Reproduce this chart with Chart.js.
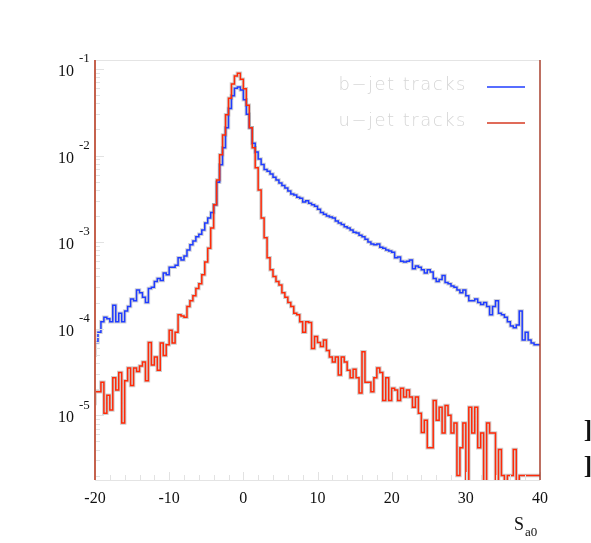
<!DOCTYPE html>
<html>
<head>
<meta charset="utf-8">
<script src="https://cdn.jsdelivr.net/npm/chart.js@4.4.1/dist/chart.umd.min.js"></script>
<style>
  html, body { margin: 0; padding: 0; background: #fff; }
  #plot { display: block; }
</style>
</head>
<body>
<canvas id="plot" width="591" height="543"></canvas>
<script>
// histogram binning (x axis: S_a0)
const binLow = -20;
const binWidth = 0.4;

const xTicks = [-20, -10, 0, 10, 20, 30, 40];
const yTicks = [1e-1, 1e-2, 1e-3, 1e-4, 1e-5];
const yTickExp = ['-1', '-2', '-3', '-4', '-5'];
const seriesNames = ['b\u2212jet tracks', 'u\u2212jet tracks'];

// b-jet tracks, one value per bin
const bJet = [
  4.7e-5, 6.9e-5, 9.1e-5, 1.2e-4, 1.35e-4, 1.3e-4, 1.2e-4, 1.86e-4, 1.2e-4, 1.5e-4,
  1.2e-4, 1.6e-4, 1.8e-4, 2.2e-4, 2.1e-4, 2.8e-4, 2.6e-4, 2.3e-4, 2.0e-4, 2.9e-4,
  3.0e-4, 3.5e-4, 3.8e-4, 3.6e-4, 4.4e-4, 4.2e-4, 5.1e-4, 5.1e-4, 5.4e-4, 6.6e-4,
  6.2e-4, 6.9e-4, 8.1e-4, 9.3e-4, 1.03e-3, 1.15e-3, 1.23e-3, 1.38e-3, 1.66e-3, 1.9e-3,
  2.2e-3, 2.7e-3, 4.9e-3, 7.8e-3, 0.0123, 0.021, 0.035, 0.049, 0.060, 0.062,
  0.057, 0.044, 0.030, 0.021, 0.0139, 0.011, 0.0091, 0.0079, 0.0069, 0.0066,
  0.0061, 0.0056, 0.0052, 0.0048, 0.0045, 0.0042, 0.0039, 0.0036, 0.0035, 0.0033,
  0.0032, 0.0029, 0.0030, 0.0028, 0.0027, 0.0026, 0.0024, 0.0022, 0.0021, 0.0020,
  0.00195, 0.0019, 0.00175, 0.00166, 0.0016, 0.0015, 0.00145, 0.00138, 0.0013, 0.00127,
  0.0012, 0.00115, 0.00108, 0.0010, 0.00095, 0.00093, 0.00095, 0.00087, 0.00085, 0.00081,
  0.00079, 0.00076, 0.00066, 0.00067, 0.0006, 0.00059, 0.0006, 0.00062, 0.00049, 0.00053,
  0.00051, 0.00048, 0.00044, 0.00048, 0.00045, 0.00038, 0.00035, 0.00037, 0.00041, 0.00034,
  0.00033, 0.00031, 0.0003, 0.00028, 0.00026, 0.00028, 0.00024, 0.00021, 0.00021, 0.00022,
  0.0002, 0.00019, 0.0002, 0.00018, 0.000145, 0.00018, 0.00021, 0.00015, 0.000145, 0.000135,
  0.00012, 0.000107, 0.000102, 0.00011, 0.00016, 0.000074, 0.000091, 0.000074, 0.000068, 0.000065
];

// u-jet tracks (1e-7 = empty bin, falls below the axis)
const uJet = [
  1.3e-5, 1.86e-5, 1.86e-5, 2.4e-5, 1.05e-5, 1.7e-5, 1.15e-5, 2.7e-5, 1.95e-5, 3.1e-5,
  8.1e-6, 2.5e-5, 3.5e-5, 2.2e-5, 3.5e-5, 3.2e-5, 3.7e-5, 4.1e-5, 2.5e-5, 6.9e-5,
  3.8e-5, 4.7e-5, 3.3e-5, 6.8e-5, 4.9e-5, 6.5e-5, 9.6e-5, 6.8e-5, 9.1e-5, 1.45e-4,
  1.4e-4, 1.35e-4, 1.8e-4, 2.1e-4, 2.4e-4, 2.9e-4, 3.3e-4, 4.2e-4, 5.9e-4, 8.5e-4,
  1.45e-3, 2.7e-3, 5.2e-3, 0.0102, 0.0173, 0.0295, 0.046, 0.067, 0.083, 0.089,
  0.076, 0.059, 0.038, 0.021, 0.0123, 0.0072, 0.0040, 0.0019, 0.00112, 0.00066,
  0.00048, 0.0004, 0.00035, 0.00032, 0.00026, 0.00023, 0.0002, 0.00018, 0.00015, 0.000145,
  0.00012, 0.000091, 0.00012, 0.000118, 0.000059, 0.000081, 0.000069, 0.000062, 0.000074, 0.000056,
  0.000047, 0.000041, 0.000047, 0.000029, 0.000047, 0.000041, 0.000033, 0.000027, 0.000034, 0.000027,
  0.000018, 0.000054, 0.000024, 0.000024, 0.0000186, 0.000027, 0.000035, 0.000031, 0.0000148, 0.000027,
  0.0000148, 0.0000204, 0.0000195, 0.0000148, 0.0000204, 0.0000162, 0.0000195, 0.0000162, 0.0000123, 0.0000162,
  0.0000105, 0.0000063, 0.0000087, 0.0000042, 0.0000042, 0.0000148, 0.0000087, 0.0000123, 0.0000062, 0.0000129,
  0.00001, 0.0000062, 0.0000081, 0.000002, 0.0000042, 0.0000081, 1e-7, 0.0000123, 0.0000062, 0.0000123,
  0.0000042, 0.0000062, 1e-7, 0.0000081, 0.0000062, 0.0000062, 1e-7, 0.000004, 0.000002, 1e-7,
  0.000002, 0.000002, 0.000004, 1e-7, 0.000002, 0.000002, 0.000002, 0.000002, 0.000002, 0.000002
];

const BLUE = '#1f3cff';
const RED = '#ff2a08';
const SERIF = '"Liberation Serif", "Times New Roman", "DejaVu Serif", serif';

// bin left edges + closing point at the right edge, for stepped 'after'
function toSteps(values) {
  const pts = values.map((v, i) => ({ x: binLow + i * binWidth, y: v }));
  pts.push({ x: binLow + values.length * binWidth, y: values[values.length - 1] });
  return pts;
}

function histDataset(values, color, width, order) {
  return {
    data: toSteps(values),
    borderColor: color,
    borderWidth: width,
    stepped: 'after',
    pointRadius: 0,
    fill: false,
    order: order,
  };
}

// axes, ticks, labels and legend are drawn by hand, ROOT style
const frame = {
  id: 'frame',
  afterDraw(chart) {
    const { ctx, chartArea: a, scales } = chart;
    const xs = scales.x, ys = scales.y;
    ctx.save();

    // faint top and bottom frame
    ctx.strokeStyle = '#e4e4e4';
    ctx.lineWidth = 1;
    ctx.beginPath();
    ctx.moveTo(a.left, a.top + 0.5); ctx.lineTo(a.right, a.top + 0.5);
    ctx.moveTo(a.left, a.bottom + 0.5); ctx.lineTo(a.right, a.bottom + 0.5);
    ctx.stroke();

    // minor/major ticks inside the frame
    ctx.strokeStyle = '#e2e2e2';
    ctx.beginPath();
    for (let v = xs.min; v <= xs.max; v += 2) {
      const px = Math.round(xs.getPixelForValue(v)) + 0.5;
      const len = (v % 10 === 0) ? 8 : 5;
      ctx.moveTo(px, a.bottom); ctx.lineTo(px, a.bottom - len);
    }
    for (let k = -7; k <= 0; k++) {
      for (let m = 1; m <= 9; m++) {
        const v = m * Math.pow(10, k);
        if (v < ys.min || v > ys.max) continue;
        const py = Math.round(ys.getPixelForValue(v)) + 0.5;
        const len = m === 1 ? 9 : 5;
        ctx.moveTo(a.left, py); ctx.lineTo(a.left + len, py);
      }
    }
    ctx.stroke();

    // left and right axis lines
    ctx.lineWidth = 2;
    ctx.strokeStyle = '#c5624d';
    ctx.beginPath();
    ctx.moveTo(a.left, a.top); ctx.lineTo(a.left, a.bottom);
    ctx.stroke();
    ctx.lineWidth = 1.5;
    ctx.strokeStyle = '#a8402e';
    ctx.beginPath();
    ctx.moveTo(a.right, a.top); ctx.lineTo(a.right, a.bottom);
    ctx.stroke();

    // y tick labels 10^-n
    ctx.fillStyle = '#111';
    yTicks.forEach((v, i) => {
      const py = ys.getPixelForValue(v);
      ctx.font = '16px ' + SERIF;
      ctx.textAlign = 'right';
      ctx.textBaseline = 'middle';
      ctx.fillText('10', 74, py + 3);
      ctx.font = '13px ' + SERIF;
      ctx.textAlign = 'left';
      ctx.fillText(yTickExp[i], 79, py - 10);
    });

    // x tick labels
    ctx.font = '16px ' + SERIF;
    ctx.textAlign = 'center';
    ctx.textBaseline = 'middle';
    xTicks.forEach(v => {
      ctx.fillText(String(v), xs.getPixelForValue(v), a.bottom + 19);
    });

    // axis title S_a0
    ctx.textAlign = 'left';
    ctx.textBaseline = 'alphabetic';
    ctx.font = '18px ' + SERIF;
    ctx.fillText('S', a.right - 26, a.bottom + 50);
    ctx.font = '13px ' + SERIF;
    ctx.fillText('a0', a.right - 15, a.bottom + 56);

    // legend
    const colors = [BLUE, '#d63a22'];
    ctx.font = '200 18px "DejaVu Sans", "Open Sans", sans-serif';
    if ('letterSpacing' in ctx) ctx.letterSpacing = '1.5px';
    seriesNames.forEach((name, i) => {
      const y = a.top + 27 + i * 36;
      ctx.fillStyle = '#d6d6d6';
      ctx.textAlign = 'right';
      ctx.textBaseline = 'middle';
      ctx.fillText(name, a.right - 73, y - 2);
      ctx.strokeStyle = colors[i];
      ctx.lineWidth = 1.5;
      ctx.beginPath();
      ctx.moveTo(a.right - 53, y); ctx.lineTo(a.right - 15, y);
      ctx.stroke();
    });
    if ('letterSpacing' in ctx) ctx.letterSpacing = '0px';

    // clipped glyphs at the right page edge
    ctx.fillStyle = '#111';
    ctx.font = 'bold 25px ' + SERIF;
    ctx.textAlign = 'right';
    ctx.textBaseline = 'middle';
    ctx.fillText(']', chart.width + 1, 432);
    ctx.fillText(']', chart.width + 1, 468);

    ctx.restore();
  }
};

new Chart(document.getElementById('plot'), {
  type: 'line',
  data: {
    datasets: [
      histDataset(uJet, RED, 1.5, 1),
      histDataset(bJet, BLUE, 1.5, 2),
      histDataset(uJet, 'rgba(120,110,110,0.35)', 3.5, 3),
      histDataset(bJet, 'rgba(120,120,140,0.35)', 3.5, 4),
    ]
  },
  options: {
    responsive: false,
    animation: false,
    layout: { padding: { left: 95, right: 51, top: 60, bottom: 63 } },
    plugins: { legend: { display: false }, tooltip: { enabled: false } },
    scales: {
      x: { type: 'linear', min: -20, max: 40, display: false },
      y: { type: 'logarithmic', min: 1.78e-6, max: 0.127, display: false },
    },
  },
  plugins: [frame],
});
</script>
</body>
</html>
